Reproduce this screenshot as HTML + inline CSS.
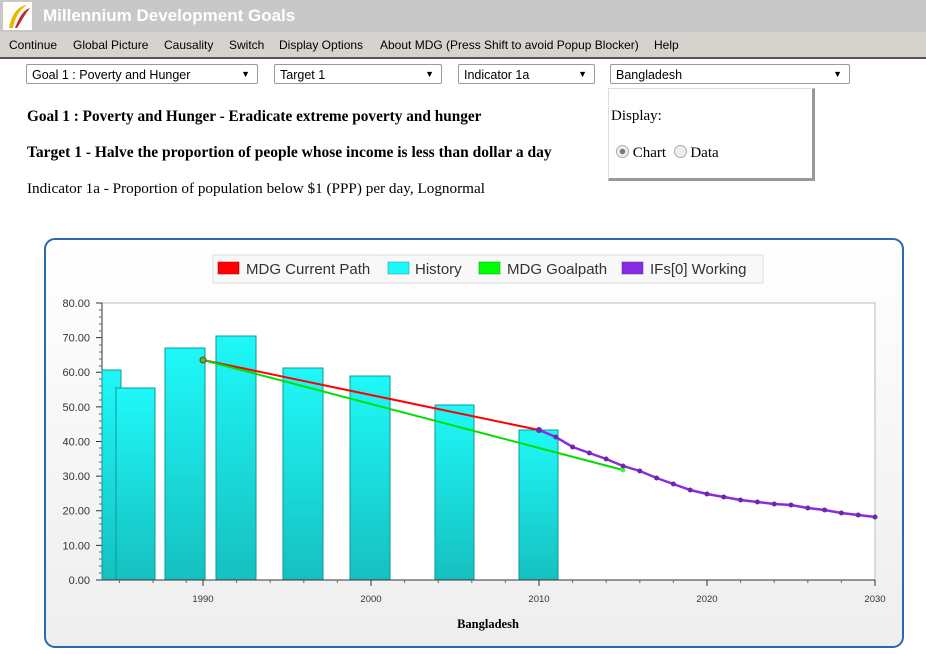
<!DOCTYPE html>
<html><head><meta charset="utf-8"><style>
body{margin:0;width:926px;height:654px;background:#fff;position:relative;overflow:hidden;font-family:"Liberation Sans",Arial,sans-serif}
.hdr{position:absolute;left:0;top:0;width:926px;height:32px;background:#c8c8c8}
.hdr .t{position:absolute;left:43px;top:6px;color:#fff;font-weight:bold;font-size:17px}
.menu{position:absolute;left:0;top:32px;width:926px;height:25px;background:#d6d3ce;border-bottom:2px solid #555;font-size:12px}
.menu span{position:absolute;top:6px}
.sel{position:absolute;top:64px;height:20px;border:1px solid #999;border-radius:2px;font-size:12.5px;box-sizing:border-box;padding:3px 5px}
.sel:after{content:"▼";position:absolute;right:7px;top:4px;font-size:9px}
.serif{font-family:"Liberation Serif",serif;position:absolute;font-size:15px}
</style></head><body>
<div class="hdr"><svg style="position:absolute;left:3px;top:2px" width="29" height="28"><rect width="29" height="28" fill="#fff"/><path d="M6 26 C8 14 14 4 24 3 C16 8 12 16 10 26Z" fill="#e8b800"/><path d="M12 26 C16 16 20 8 27 6 C22 12 18 20 14 26Z" fill="#c0282c"/></svg><div class="t">Millennium Development Goals</div></div>
<div class="menu"><span style="left:9px">Continue</span><span style="left:73px">Global Picture</span><span style="left:164px">Causality</span><span style="left:229px">Switch</span><span style="left:279px">Display Options</span><span style="left:380px">About MDG (Press Shift to avoid Popup Blocker)</span><span style="left:654px">Help</span></div>
<div class="sel" style="left:26px;width:232px">Goal 1 : Poverty and Hunger</div>
<div class="sel" style="left:274px;width:168px">Target 1</div>
<div class="sel" style="left:458px;width:137px">Indicator 1a</div>
<div class="sel" style="left:610px;width:240px">Bangladesh</div>
<div style="position:absolute;left:608px;top:88px;width:203px;height:89px;border:1px solid #ddd;border-right:3px solid #999;border-bottom:3px solid #999"></div>
<div class="serif" style="left:611px;top:108px">Display:</div>
<div class="serif" style="left:616px;top:145px"><span style="display:inline-block;width:11px;height:11px;border:1px solid #aaa;border-radius:50%;background:radial-gradient(#777 30%,#eee 40%);vertical-align:-1px"></span> Chart &nbsp;<span style="display:inline-block;width:11px;height:11px;border:1px solid #aaa;border-radius:50%;background:#eee;vertical-align:-1px"></span> Data</div>
<div class="serif" style="left:27px;top:108px;font-weight:bold;font-size:15.3px">Goal 1 : Poverty and Hunger - Eradicate extreme poverty and hunger</div>
<div class="serif" style="left:27px;top:144px;font-weight:bold;font-size:15.5px">Target 1 - Halve the proportion of people whose income is less than dollar a day</div>
<div class="serif" style="left:27px;top:180px;font-size:15.2px">Indicator 1a - Proportion of population below $1 (PPP) per day, Lognormal</div>
<svg style="position:absolute;left:0;top:0" width="926" height="654">
<defs><linearGradient id="bg" x1="0" y1="0" x2="0" y2="1"><stop offset="0" stop-color="#fff"/><stop offset="1" stop-color="#eeeeee"/></linearGradient>
<linearGradient id="bar" x1="0" y1="0" x2="0" y2="1"><stop offset="0" stop-color="#1ff8f8"/><stop offset="1" stop-color="#16c0c0"/></linearGradient></defs>
<rect x="45" y="239" width="858" height="408" rx="10" fill="url(#bg)" stroke="#2a68b0" stroke-width="2"/>
<rect x="213" y="255" width="550" height="28" fill="#f8f8f8" stroke="#ddd"/>
<g font-size="15" fill="#333"><rect x="218" y="262" width="21" height="12" fill="#f00" stroke="#900" stroke-width=".5"/><text x="246" y="274">MDG Current Path</text>
<rect x="388" y="262" width="21" height="12" fill="#1ff8f8" stroke="#099" stroke-width=".5"/><text x="415" y="274">History</text>
<rect x="479" y="262" width="21" height="12" fill="#0f0" stroke="#090" stroke-width=".5"/><text x="507" y="274">MDG Goalpath</text>
<rect x="622" y="262" width="21" height="12" fill="#8a2be2" stroke="#529" stroke-width=".5"/><text x="650" y="274">IFs[0] Working</text></g>
<rect x="102" y="303" width="773" height="277" fill="#fff" stroke="#bbb"/>
<g font-size="11" fill="#333" text-anchor="end">
<text x="90" y="307">80.00</text><text x="90" y="341.6">70.00</text><text x="90" y="376.2">60.00</text><text x="90" y="410.9">50.00</text><text x="90" y="445.5">40.00</text><text x="90" y="480.1">30.00</text><text x="90" y="514.7">20.00</text><text x="90" y="549.4">10.00</text><text x="90" y="584">0.00</text></g>
<path d="M102 303V580M96 303h6M96 337.6h6M96 372.2h6M96 406.9h6M96 441.5h6M96 476.1h6M96 510.7h6M96 545.4h6M96 580h6" stroke="#333"/>
<path stroke="#666" d="M99 310h3M99 317h3M99 324h3M99 331h3M99 345h3M99 352h3M99 359h3M99 366h3M99 379h3M99 386h3M99 393h3M99 400h3M99 414h3M99 421h3M99 428h3M99 434h3M99 448h3M99 455h3M99 462h3M99 469h3M99 483h3M99 490h3M99 497h3M99 504h3M99 518h3M99 524h3M99 531h3M99 538h3M99 552h3M99 559h3M99 566h3M99 573h3"/>
<g fill="url(#bar)" stroke="#0a9a9a">
<rect x="102" y="370" width="19" height="210"/><rect x="116" y="388" width="39" height="192"/><rect x="165" y="348" width="40" height="232"/><rect x="216" y="336" width="40" height="244"/><rect x="283" y="368" width="40" height="212"/><rect x="350" y="376" width="40" height="204"/><rect x="435" y="405" width="39" height="175"/><rect x="519" y="430" width="39" height="150"/></g>
<path d="M102 580H875" stroke="#333"/>
<g stroke="#333"><path d="M203 580v6M371 580v6M539 580v6M707 580v6M875 580v6"/></g>
<path stroke="#666" d="M119.4 580v3M153 580v3M186.2 580v3M236.6 580v3M270.2 580v3M303.8 580v3M337.4 580v3M404.6 580v3M438.2 580v3M471.8 580v3M505.4 580v3M572.6 580v3M606.2 580v3M639.8 580v3M673.4 580v3M740.6 580v3M774.2 580v3M807.8 580v3M841.4 580v3"/>
<g font-size="9.5" fill="#333" text-anchor="middle"><text x="203" y="602">1990</text><text x="371" y="602">2000</text><text x="539" y="602">2010</text><text x="707" y="602">2020</text><text x="875" y="602">2030</text></g>
<text x="488" y="628" font-family="Liberation Serif,serif" font-weight="bold" font-size="12.5" text-anchor="middle">Bangladesh</text>
<line x1="203" y1="360" x2="539" y2="430" stroke="#f00" stroke-width="2"/>
<line x1="203" y1="360" x2="623" y2="470" stroke="#0d0" stroke-width="2"/>
<circle cx="203" cy="360" r="3" fill="#3c3" stroke="#a22"/><circle cx="623" cy="470" r="2.5" fill="#3f3"/>
<polyline fill="none" stroke="#8a2be2" stroke-width="2.5" points="539,430 555.8,437 572.6,447 589.4,453 606.2,459 623,466 639.8,471 656.6,478 673.4,484 690.2,490 707,494 723.8,497 740.6,500 757.4,502 774.2,504 791,505 807.8,508 824.6,510 841.4,513 858.2,515 875,517"/>
<g fill="#6a2aa0"><circle cx="539" cy="430" r="3"/><circle cx="555.8" cy="437" r="2.5"/><circle cx="572.6" cy="447" r="2.5"/><circle cx="589.4" cy="453" r="2.5"/><circle cx="606.2" cy="459" r="2.5"/><circle cx="623" cy="466" r="2.5"/><circle cx="639.8" cy="471" r="2.5"/><circle cx="656.6" cy="478" r="2.5"/><circle cx="673.4" cy="484" r="2.5"/><circle cx="690.2" cy="490" r="2.5"/><circle cx="707" cy="494" r="2.5"/><circle cx="723.8" cy="497" r="2.5"/><circle cx="740.6" cy="500" r="2.5"/><circle cx="757.4" cy="502" r="2.5"/><circle cx="774.2" cy="504" r="2.5"/><circle cx="791" cy="505" r="2.5"/><circle cx="807.8" cy="508" r="2.5"/><circle cx="824.6" cy="510" r="2.5"/><circle cx="841.4" cy="513" r="2.5"/><circle cx="858.2" cy="515" r="2.5"/><circle cx="875" cy="517" r="2.5"/></g>
</svg>
</body></html>
